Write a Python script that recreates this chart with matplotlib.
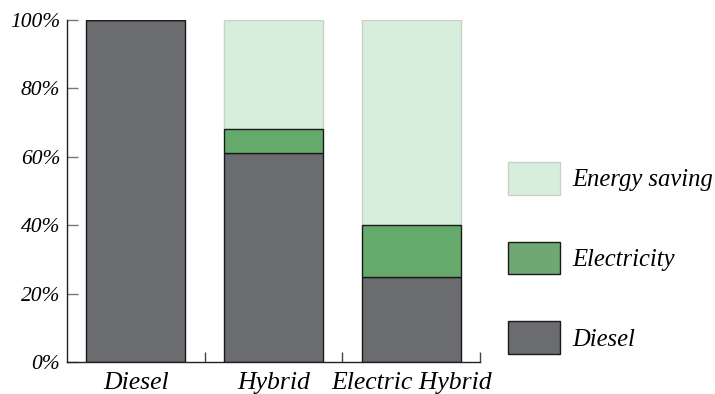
import matplotlib.pyplot as plt
from matplotlib.patches import Patch
import numpy as np

# Share of energy by drivetrain (percent)
vehicles = ['Diesel', 'Hybrid', 'Electric Hybrid']
diesel = [100, 61, 25]
electricity = [0, 7, 15]
energy_saving = [0, 32, 60]

c_diesel = '#6b6c70'
c_elec = '#66aa6b'
c_saving = '#d8eedc'

plt.rcParams['font.family'] = 'Liberation Serif'
plt.rcParams['font.style'] = 'italic'

fig = plt.figure(figsize=(7.15, 3.94), dpi=100)
ax = fig.add_axes([67 / 715, 1 - 362 / 394, 413 / 715, 342 / 394])

x = np.arange(len(vehicles))
w = 0.72
ax.bar(x, diesel, w, color=c_diesel, edgecolor='#1a1a1a', linewidth=1.0, zorder=2)
ax.bar(x, electricity, w, bottom=diesel, color=c_elec, edgecolor='#1a1a1a', linewidth=1.0, zorder=2)
tops = np.array(diesel) + np.array(electricity)
ax.bar(x, energy_saving, w, bottom=tops, color=c_saving, edgecolor='#c8d2ca', linewidth=1.0, zorder=1)

ax.set_xlim(-0.5, len(vehicles) - 0.5)
ax.set_ylim(0, 100)

for s in ['top', 'right']:
    ax.spines[s].set_visible(False)
for s in ['left', 'bottom']:
    ax.spines[s].set_linewidth(1.0)
    ax.spines[s].set_color('#222222')

# y axis: inward gray ticks, italic percent labels
yt = [0, 20, 40, 60, 80, 100]
ax.set_yticks(yt)
ax.set_yticklabels([f'{v}%' for v in yt], fontsize=15.5)
ax.tick_params(axis='y', direction='in', length=8, width=1.0, color='#777777', pad=5)

# x axis: labels at centres, small upward ticks between categories
ax.set_xticks(x)
ax.set_xticklabels(vehicles, fontsize=18.5)
ax.tick_params(axis='x', which='major', length=0, pad=7)
ax.set_xticks(np.arange(len(vehicles)) + 0.5, minor=True)
ax.tick_params(axis='x', which='minor', direction='in', length=7, width=1.0, color='#444444')

handles = [
    Patch(facecolor=c_saving, edgecolor='#c8d2ca', label='Energy saving'),
    Patch(facecolor='#6fa872', edgecolor='#1a1a1a', label='Electricity'),
    Patch(facecolor=c_diesel, edgecolor='#1a1a1a', label='Diesel'),
]
fig.legend(handles=handles, loc='center left', bbox_to_anchor=(508 / 715, 1 - 258 / 394),
           frameon=False, fontsize=17.7, handlelength=2.1, handleheight=1.68,
           labelspacing=1.9, handletextpad=0.52, borderaxespad=0, borderpad=0)

fig.savefig('out.png', dpi=100)
